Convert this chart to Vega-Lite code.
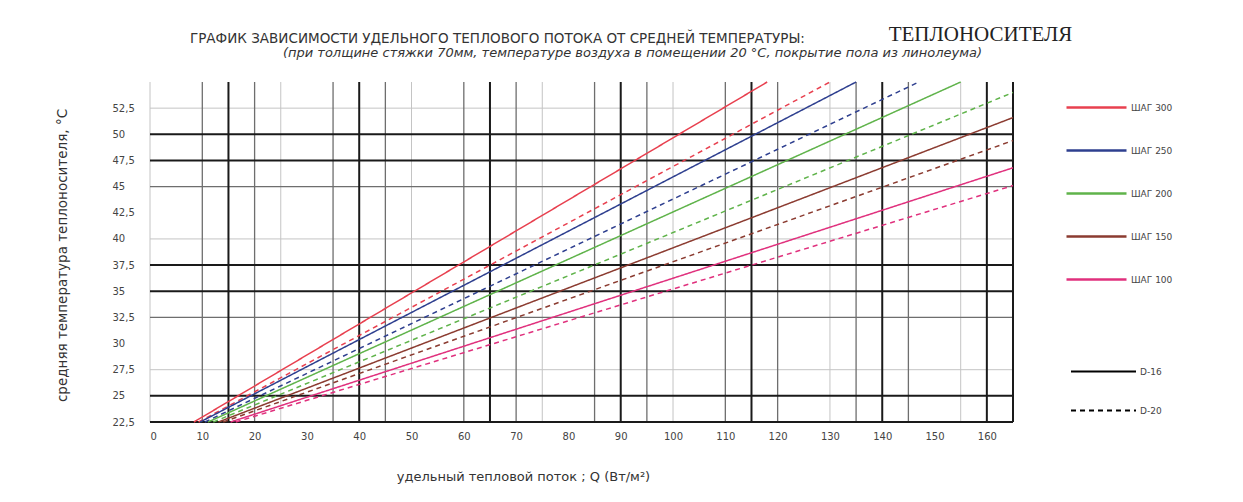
{
  "$schema": "https://vega.github.io/schema/vega-lite/v6.json",
  "width": 863,
  "height": 340,
  "autosize": {"type": "none"},
  "padding": {"left": 150, "top": 82, "right": 230, "bottom": 80},
  "background": "white",
  "config": {"view": {"stroke": null}, "font": "DejaVu Sans"},
  "title": {
    "text": "ГРАФИК ЗАВИСИМОСТИ УДЕЛЬНОГО ТЕПЛОВОГО ПОТОКА ОТ СРЕДНЕЙ ТЕМПЕРАТУРЫ:",
    "anchor": "start",
    "frame": "group",
    "dx": 40,
    "offset": -22,
    "font": "DejaVu Sans",
    "fontSize": 13.5,
    "fontWeight": "normal",
    "color": "#333"
  },
  "datasets": {
    "curves": [
      {"step": "ШАГ 300", "pipe": "D-16", "q": 8.4, "t": 22.5}, {"step": "ШАГ 300", "pipe": "D-16", "q": 118, "t": 55},
      {"step": "ШАГ 300", "pipe": "D-20", "q": 9.3, "t": 22.5}, {"step": "ШАГ 300", "pipe": "D-20", "q": 130, "t": 55},
      {"step": "ШАГ 250", "pipe": "D-16", "q": 9.6, "t": 22.5}, {"step": "ШАГ 250", "pipe": "D-16", "q": 135, "t": 55},
      {"step": "ШАГ 250", "pipe": "D-20", "q": 10.5, "t": 22.5}, {"step": "ШАГ 250", "pipe": "D-20", "q": 147, "t": 55},
      {"step": "ШАГ 200", "pipe": "D-16", "q": 11.1, "t": 22.5}, {"step": "ШАГ 200", "pipe": "D-16", "q": 155, "t": 55},
      {"step": "ШАГ 200", "pipe": "D-20", "q": 12.1, "t": 22.5}, {"step": "ШАГ 200", "pipe": "D-20", "q": 165, "t": 54},
      {"step": "ШАГ 150", "pipe": "D-16", "q": 13.1, "t": 22.5}, {"step": "ШАГ 150", "pipe": "D-16", "q": 165, "t": 51.6},
      {"step": "ШАГ 150", "pipe": "D-20", "q": 14, "t": 22.5}, {"step": "ШАГ 150", "pipe": "D-20", "q": 165, "t": 49.4},
      {"step": "ШАГ 100", "pipe": "D-16", "q": 15.4, "t": 22.5}, {"step": "ШАГ 100", "pipe": "D-16", "q": 165, "t": 46.8},
      {"step": "ШАГ 100", "pipe": "D-20", "q": 16.4, "t": 22.5}, {"step": "ШАГ 100", "pipe": "D-20", "q": 165, "t": 45.1}
    ],
    "vgrid": [
      {"q": 0, "kind": "fine"}, {"q": 25, "kind": "fine"}, {"q": 50, "kind": "fine"}, {"q": 75, "kind": "fine"},
      {"q": 100, "kind": "fine"}, {"q": 130, "kind": "fine"}, {"q": 155, "kind": "fine"},
      {"q": 10, "kind": "medium"}, {"q": 20, "kind": "medium"}, {"q": 35, "kind": "medium"}, {"q": 45, "kind": "medium"},
      {"q": 60, "kind": "medium"}, {"q": 70, "kind": "medium"}, {"q": 85, "kind": "medium"}, {"q": 95, "kind": "medium"},
      {"q": 110, "kind": "medium"}, {"q": 120, "kind": "medium"}, {"q": 135, "kind": "medium"}, {"q": 145, "kind": "medium"},
      {"q": 15, "kind": "major"}, {"q": 40, "kind": "major"}, {"q": 65, "kind": "major"}, {"q": 90, "kind": "major"},
      {"q": 115, "kind": "major"}, {"q": 140, "kind": "major"}, {"q": 160, "kind": "major"}, {"q": 165, "kind": "major"}
    ],
    "hgrid": [
      {"t": 27.5, "kind": "fine"}, {"t": 40, "kind": "fine"}, {"t": 52.5, "kind": "fine"},
      {"t": 32.5, "kind": "medium"}, {"t": 45, "kind": "medium"},
      {"t": 22.5, "kind": "major"}, {"t": 25, "kind": "major"}, {"t": 35, "kind": "major"},
      {"t": 37.5, "kind": "major"}, {"t": 47.5, "kind": "major"}, {"t": 50, "kind": "major"}
    ]
  },
  "resolve": {"axis": {"x": "independent", "y": "independent"}},
  "layer": [
    {
      "data": {"name": "vgrid"},
      "transform": [{"filter": "datum.kind === 'fine'"}],
      "mark": {"type": "rule", "color": "#c4c4c4", "strokeWidth": 1},
      "encoding": {"x": {"field": "q", "type": "quantitative", "scale": {"domain": [0, 165], "nice": false, "zero": false}, "axis": null}}
    },
    {
      "data": {"name": "hgrid"},
      "transform": [{"filter": "datum.kind === 'fine'"}],
      "mark": {"type": "rule", "color": "#c4c4c4", "strokeWidth": 1},
      "encoding": {"y": {"field": "t", "type": "quantitative", "scale": {"domain": [22.5, 55], "nice": false, "zero": false}, "axis": null}}
    },
    {
      "data": {"name": "vgrid"},
      "transform": [{"filter": "datum.kind === 'medium'"}],
      "mark": {"type": "rule", "color": "#6e6e6e", "strokeWidth": 1.3},
      "encoding": {"x": {"field": "q", "type": "quantitative", "scale": {"domain": [0, 165], "nice": false, "zero": false}, "axis": null}}
    },
    {
      "data": {"name": "hgrid"},
      "transform": [{"filter": "datum.kind === 'medium'"}],
      "mark": {"type": "rule", "color": "#6e6e6e", "strokeWidth": 1.3},
      "encoding": {"y": {"field": "t", "type": "quantitative", "scale": {"domain": [22.5, 55], "nice": false, "zero": false}, "axis": null}}
    },
    {
      "data": {"name": "vgrid"},
      "transform": [{"filter": "datum.kind === 'major'"}],
      "mark": {"type": "rule", "color": "#1a1a1a", "strokeWidth": 2},
      "encoding": {"x": {"field": "q", "type": "quantitative", "scale": {"domain": [0, 165], "nice": false, "zero": false},
        "axis": {"orient": "top", "labels": false, "ticks": false, "domain": false, "grid": false,
          "title": "(при толщине стяжки 70мм, температуре воздуха в помещении 20 °С, покрытие пола из линолеума)",
          "titleX": 482, "titleY": -26, "titleAlign": "center", "titleBaseline": "alphabetic",
          "titleFont": "DejaVu Sans", "titleFontSize": 13, "titleFontWeight": "normal", "titleFontStyle": "italic", "titleColor": "#333"}}}
    },
    {
      "data": {"name": "hgrid"},
      "transform": [{"filter": "datum.kind === 'major'"}],
      "mark": {"type": "rule", "color": "#1a1a1a", "strokeWidth": 2},
      "encoding": {"y": {"field": "t", "type": "quantitative", "scale": {"domain": [22.5, 55], "nice": false, "zero": false},
        "axis": {"orient": "right", "labels": false, "ticks": false, "domain": false, "grid": false,
          "title": "ТЕПЛОНОСИТЕЛЯ", "titleAngle": 0, "titleX": -33, "titleY": -42, "titleAlign": "center", "titleBaseline": "alphabetic",
          "titleFont": "Liberation Serif", "titleFontSize": 21, "titleFontWeight": "normal", "titleColor": "#222"}}}
    },
    {
      "data": {"name": "curves"},
      "mark": {"type": "line", "strokeWidth": 1.5},
      "encoding": {
        "x": {"field": "q", "type": "quantitative", "scale": {"domain": [0, 165], "nice": false, "zero": false},
          "axis": {"values": [0, 10, 20, 30, 40, 50, 60, 70, 80, 90, 100, 110, 120, 130, 140, 150, 160],
            "domain": false, "ticks": false, "grid": false, "labelPadding": 9, "labelFontSize": 10, "labelColor": "#444",
            "title": "удельный тепловой поток ; Q (Вт/м²)", "titleX": 373, "titleY": 58, "titleAlign": "center", "titleBaseline": "alphabetic",
            "titleFontSize": 13, "titleFontWeight": "normal", "titleColor": "#333"}},
        "y": {"field": "t", "type": "quantitative", "scale": {"domain": [22.5, 55], "nice": false, "zero": false},
          "axis": {"values": [22.5, 25, 27.5, 30, 32.5, 35, 37.5, 40, 42.5, 45, 47.5, 50, 52.5],
            "labelExpr": "replace(format(datum.value, '.1~f'), '.', ',')",
            "domain": false, "ticks": false, "grid": false, "labelAlign": "left", "labelPadding": 38, "labelFontSize": 10, "labelColor": "#444",
            "title": "средняя температура теплоносителя, °С", "titleAngle": -90, "titleX": -88, "titleY": 173, "titleAlign": "center", "titleBaseline": "middle",
            "titleFontSize": 13.5, "titleFontWeight": "normal", "titleColor": "#333"}},
        "color": {"field": "step", "type": "nominal",
          "scale": {"domain": ["ШАГ 300", "ШАГ 250", "ШАГ 200", "ШАГ 150", "ШАГ 100"],
            "range": ["#e8404f", "#2e3f8f", "#5fb34a", "#8b3b30", "#e0307d"]},
          "legend": {"orient": "none", "legendX": 915, "legendY": -6, "direction": "vertical", "title": null,
            "symbolType": "stroke", "symbolSize": 3600, "symbolStrokeWidth": 2.5, "rowPadding": 6,
            "labelFontSize": 9, "labelColor": "#444", "labelOffset": 3, "padding": 0}},
        "strokeDash": {"field": "pipe", "type": "nominal",
          "scale": {"domain": ["D-16", "D-20"], "range": [[1, 0], [5, 4]]},
          "legend": {"orient": "none", "legendX": 920, "legendY": 256, "direction": "vertical", "title": null,
            "symbolType": "stroke", "symbolSize": 4225, "symbolStrokeWidth": 2, "symbolStrokeColor": "black", "rowPadding": -27,
            "labelFontSize": 9, "labelColor": "#444", "labelOffset": 3, "padding": 0}}
      }
    }
  ]
}
